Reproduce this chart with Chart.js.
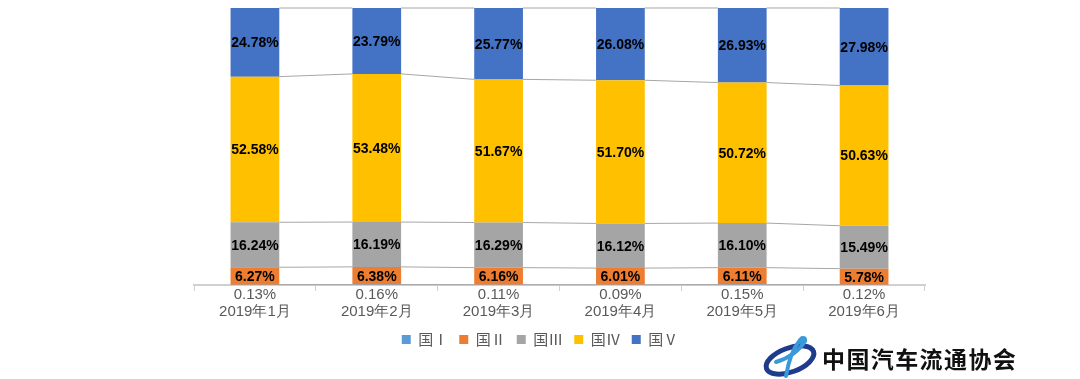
<!DOCTYPE html>
<html>
<head>
<meta charset="utf-8">
<script src="https://cdn.jsdelivr.net/npm/chart.js@4/dist/chart.umd.min.js"></script>
<style>
  html, body { margin: 0; padding: 0; background: #fff; }
  #wrap { width: 1080px; height: 379px; }
</style>
</head>
<body>
<div id="wrap"><canvas id="emissionChart" width="1080" height="379"></canvas></div>
<script>
// Categories and series (percent share of each emission standard)
const months = ['2019年1月', '2019年2月', '2019年3月', '2019年4月', '2019年5月', '2019年6月'];
const guo1 = [0.13, 0.16, 0.11, 0.09, 0.15, 0.12];
const guo2 = [6.27, 6.38, 6.16, 6.01, 6.11, 5.78];
const guo3 = [16.24, 16.19, 16.29, 16.12, 16.10, 15.49];
const guo4 = [52.58, 53.48, 51.67, 51.70, 50.72, 50.63];
const guo5 = [24.78, 23.79, 25.77, 26.08, 26.93, 27.98];
const seriesNames = ['国Ⅰ', '国Ⅱ', '国Ⅲ', '国Ⅳ', '国Ⅴ'];

const colors = ['#5B9BD5', '#ED7D31', '#A5A5A5', '#FFC000', '#4472C4'];
const textGray = '#595959';

function pct(v) {
    return v.toFixed(2) + '%';
}

// x labels carry the tiny 国I value on the first line, like the original
const xLabels = months.map((m, i) => [pct(guo1[i]), m]);

// Series lines between neighbouring bars
const seriesLines = {
    id: 'seriesLines',
    beforeDatasetsDraw(chart) {
        const ctx = chart.ctx;
        ctx.save();
        ctx.strokeStyle = '#A6A6A6';
        ctx.lineWidth = 1;
        chart.data.datasets.forEach((ds, d) => {
            const meta = chart.getDatasetMeta(d);
            for (let i = 0; i < meta.data.length - 1; i++) {
                const a = meta.data[i];
                const b = meta.data[i + 1];
                ctx.beginPath();
                ctx.moveTo(a.x + a.width / 2, a.y);
                ctx.lineTo(b.x - b.width / 2, b.y);
                ctx.stroke();
            }
        });
        ctx.restore();
    }
};

// Value labels inside the segments
const valueLabels = {
    id: 'valueLabels',
    afterDatasetsDraw(chart) {
        const ctx = chart.ctx;
        ctx.save();
        ctx.font = 'bold 14px "Liberation Sans", Arial, sans-serif';
        ctx.textAlign = 'center';
        ctx.textBaseline = 'middle';
        ctx.fillStyle = '#000';
        chart.data.datasets.forEach((ds, d) => {
            if (d === 0) return;
            const meta = chart.getDatasetMeta(d);
            meta.data.forEach((bar, i) => {
                ctx.fillText(pct(ds.data[i]), bar.x, (bar.y + bar.base) / 2 + 1);
            });
        });
        ctx.restore();
    }
};

// Association logo in the bottom right corner
const logo = {
    id: 'logo',
    afterDraw(chart) {
        const ctx = chart.ctx;
        ctx.save();
        // ring
        ctx.strokeStyle = '#1F3C8C';
        ctx.lineWidth = 5;
        ctx.beginPath();
        ctx.ellipse(790, 360, 25, 12, -0.35, 0, Math.PI * 2);
        ctx.stroke();
        // figure
        ctx.strokeStyle = '#3A9AD9';
        ctx.lineWidth = 4;
        ctx.lineCap = 'round';
        ctx.beginPath();
        ctx.moveTo(800, 340);
        ctx.quadraticCurveTo(790, 352, 786, 376);
        ctx.stroke();
        ctx.beginPath();
        ctx.moveTo(805, 341);
        ctx.quadraticCurveTo(796, 356, 776, 362);
        ctx.stroke();
        ctx.fillStyle = '#3A9AD9';
        ctx.beginPath();
        ctx.arc(803, 340, 4, 0, Math.PI * 2);
        ctx.fill();
        // name
        ctx.fillStyle = '#111';
        ctx.font = 'bold 23px "Noto Sans CJK SC", sans-serif';
        ctx.textBaseline = 'alphabetic';
        const name = '中国汽车流通协会';
        for (let i = 0; i < name.length; i++) {
            ctx.fillText(name[i], 822 + i * 24.4, 368);
        }
        ctx.restore();
    }
};

const ctx = document.getElementById('emissionChart').getContext('2d');
const dataSeries = [guo1, guo2, guo3, guo4, guo5];

new Chart(ctx, {
    type: 'bar',
    data: {
        labels: xLabels,
        datasets: dataSeries.map((vals, k) => ({
            label: seriesNames[k],
            data: vals,
            backgroundColor: colors[k],
            borderWidth: 0,
            barPercentage: 1,
            categoryPercentage: 0.4
        }))
    },
    options: {
        responsive: false,
        animation: false,
        layout: {
            padding: { top: 8, bottom: 22, left: 0, right: 0 }
        },
        scales: {
            x: {
                stacked: true,
                grid: {
                    offset: true,
                    drawOnChartArea: false,
                    tickLength: 6,
                    color: '#D0D0D0'
                },
                border: { color: '#D0D0D0', width: 2 },
                ticks: {
                    color: textGray,
                    padding: -4,
                    maxRotation: 0,
                    font: { family: '"Liberation Sans", Arial, sans-serif', size: 15, lineHeight: 1.1 }
                },
                afterFit(scale) {
                    scale.height = 36;
                }
            },
            y: {
                stacked: true,
                min: 0,
                max: 100,
                grid: { display: false },
                border: { display: false },
                ticks: { display: false },
                afterFit(scale) {
                    scale.width = 194;
                }
            },
            yRight: {
                position: 'right',
                min: 0,
                max: 100,
                grid: { display: false },
                border: { display: false },
                ticks: { display: false },
                afterFit(scale) {
                    scale.width = 155;
                }
            }
        },
        plugins: {
            legend: {
                position: 'bottom',
                labels: {
                    color: textGray,
                    boxWidth: 9,
                    boxHeight: 9,
                    padding: 11,
                    font: { family: '"Noto Sans CJK SC", sans-serif', size: 15 }
                }
            },
            tooltip: { enabled: false }
        }
    },
    plugins: [seriesLines, valueLabels, logo]
});
</script>
</body>
</html>
